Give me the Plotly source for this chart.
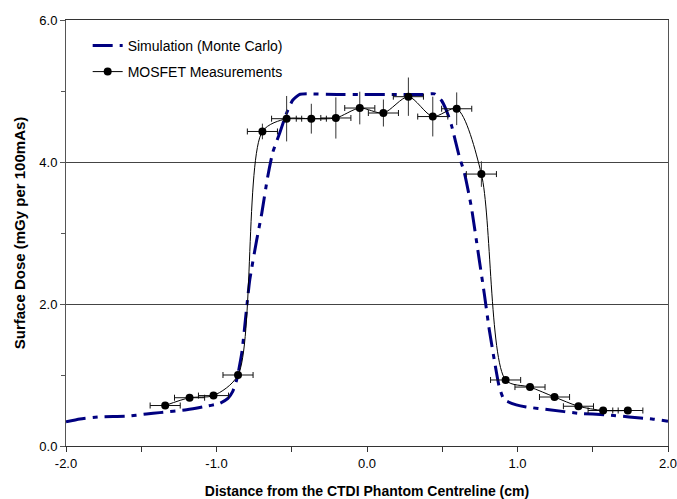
import plotly.graph_objects as go

# Simulation (Monte Carlo) curve
sim_x = [-2.0, -1.907, -1.775, -1.60, -1.466, -1.377, -1.199, -1.09, -0.979, -0.924,
         -0.892, -0.866, -0.832, -0.799, -0.779, -0.733, -0.699, -0.660, -0.627, -0.580,
         -0.534, -0.494, -0.45, -0.40, -0.2, 0.0, 0.2, 0.368, 0.448, 0.494,
         0.527, 0.561, 0.614, 0.647, 0.693, 0.746, 0.779, 0.813, 0.846, 0.879,
         0.912, 0.992, 1.058, 1.211, 1.41, 1.589, 1.741, 1.894, 2.0]
sim_y = [0.34, 0.38, 0.41, 0.42, 0.45, 0.47, 0.51, 0.55, 0.60, 0.67,
         0.77, 0.93, 1.31, 1.96, 2.34, 2.90, 3.28, 3.79, 4.13, 4.41,
         4.69, 4.87, 4.95, 4.96, 4.95, 4.95, 4.95, 4.95, 4.96, 4.87,
         4.73, 4.52, 4.07, 3.85, 3.37, 2.62, 2.15, 1.63, 1.21, 0.83,
         0.65, 0.58, 0.55, 0.51, 0.46, 0.44, 0.41, 0.38, 0.35]

# MOSFET measurements
mos_x = [-1.341, -1.179, -1.020, -0.857, -0.695, -0.534, -0.370, -0.207, -0.048, 0.109,
         0.275, 0.437, 0.596, 0.760, 0.921, 1.083, 1.246, 1.405, 1.569, 1.733]
mos_y = [0.57, 0.68, 0.71, 1.00, 4.43, 4.61, 4.61, 4.62, 4.76, 4.69,
         4.92, 4.64, 4.75, 3.83, 0.93, 0.83, 0.69, 0.56, 0.50, 0.50]
mos_err_x = [0.1] * 20
mos_err_y = [0, 0, 0, 0, 0.11, 0.32, 0.21, 0.29, 0.23, 0.19,
             0.27, 0.28, 0.23, 0.18, 0, 0, 0, 0, 0, 0]

x_ticks = [-2.0, -1.0, 0.0, 1.0, 2.0]
y_ticks = [0.0, 2.0, 4.0, 6.0]

FONT = "Liberation Sans, Arial, sans-serif"

fig = go.Figure()
fig.add_trace(go.Scatter(
    x=sim_x, y=sim_y, mode="lines", name="Simulation (Monte Carlo)",
    line=dict(color="#000080", width=3, dash="20px,7px,5px,7px", shape="spline", smoothing=0.5),
    legendgroup="a",
))
fig.add_trace(go.Scatter(
    x=mos_x, y=mos_y, mode="lines+markers", name="MOSFET Measurements",
    line=dict(color="black", width=1, shape="spline", smoothing=0.8),
    marker=dict(color="black", size=8, symbol="circle"),
    error_x=dict(type="data", array=mos_err_x, color="#111", thickness=1, width=3),
    error_y=dict(type="data", array=mos_err_y, color="#333", thickness=1, width=0),
    legendgroup="b",
))

fig.update_layout(
    width=677, height=499,
    margin=dict(l=66, r=9, t=20, b=53),
    paper_bgcolor="white", plot_bgcolor="white",
    font=dict(family=FONT, color="black", size=13),
    showlegend=True,
    legend=dict(x=0.036, y=0.977, xanchor="left", yanchor="top",
                bgcolor="rgba(0,0,0,0)", font=dict(size=14, family=FONT),
                traceorder="grouped", tracegroupgap=5, itemwidth=30),
    xaxis=dict(
        range=[-2, 2], tickvals=x_ticks, ticktext=[f"{v:.1f}" for v in x_ticks],
        showgrid=False, zeroline=False, automargin=False, ticklabeloverflow="allow",
        showline=True, linecolor="#333", linewidth=1, mirror=True,
        ticks="outside", ticklen=5, tickcolor="#333",
        minor=dict(dtick=0.5, ticks="outside", ticklen=5, tickcolor="#333", showgrid=False),
        tickfont=dict(size=13),
        title=dict(text="<b>Distance from the CTDI Phantom Centreline (cm)</b>",
                   font=dict(size=14), standoff=18),
    ),
    yaxis=dict(
        range=[0, 6], tickvals=y_ticks, ticktext=[f"{v:.1f}" for v in y_ticks],
        showgrid=True, gridcolor="#444", gridwidth=1, zeroline=False, automargin=False,
        showline=True, linecolor="#555", linewidth=1, mirror=True,
        ticks="outside", ticklen=5, tickcolor="#555",
        minor=dict(dtick=1, ticks="outside", ticklen=4, tickcolor="#555", showgrid=False),
        tickfont=dict(size=13),
        title=dict(text="<b>Surface Dose (mGy per 100mAs)</b>",
                   font=dict(size=15), standoff=10),
    ),
)

fig.write_html("out.html")
